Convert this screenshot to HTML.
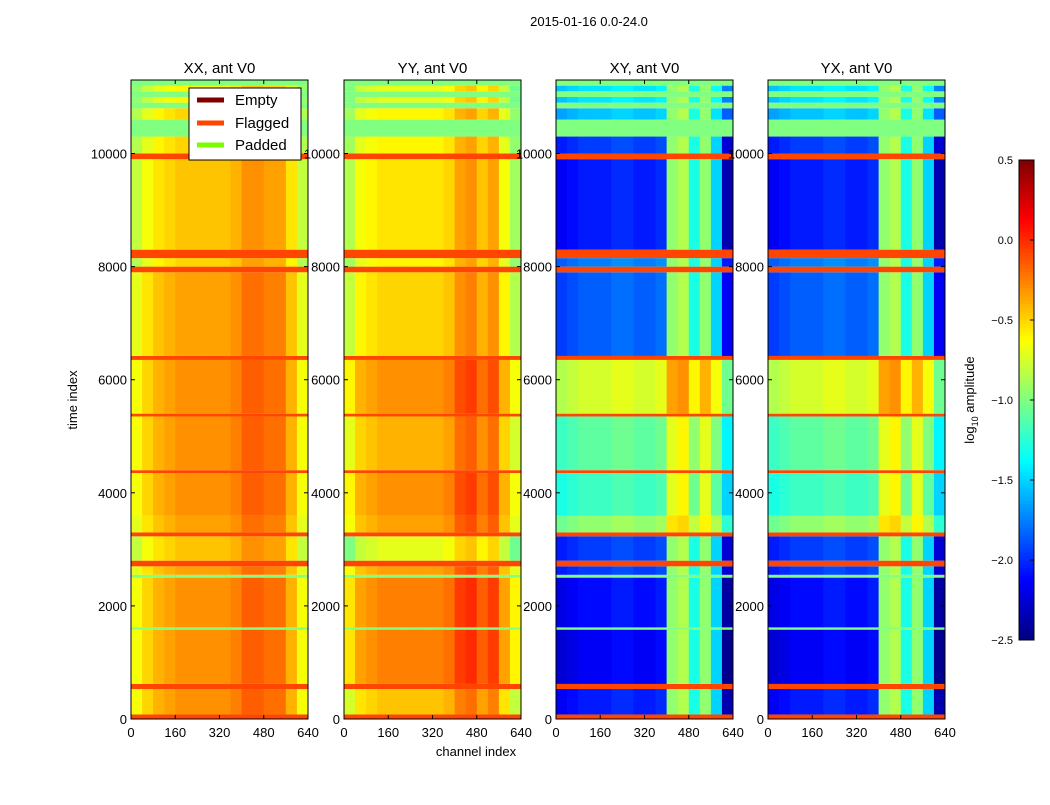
<!DOCTYPE html>
<html><head><meta charset="utf-8"><style>
body{margin:0;background:#fff;font-family:"Liberation Sans",sans-serif}
svg text{font-family:"Liberation Sans",sans-serif}
</style></head><body>
<svg id="c" width="1050" height="800" xmlns="http://www.w3.org/2000/svg">
<text x="589" y="26" font-size="13" text-anchor="middle">2015-01-16 0.0-24.0</text>
<text x="476" y="756" font-size="13" text-anchor="middle">channel index</text>
<text x="77" y="400" font-size="13" text-anchor="middle" transform="rotate(-90 77 400)">time index</text>
<g id="panels"></g>
<g id="cbar"></g>
<text x="974" y="400" font-size="13" text-anchor="middle" transform="rotate(-90 974 400)">log<tspan font-size="9" dy="4">10</tspan><tspan dy="-4"> amplitude</tspan></text>
<g>
<rect x="189" y="88" width="112" height="72" fill="#fff" stroke="#000"/>
<line x1="197" y1="100" x2="224" y2="100" stroke="#800000" stroke-width="5"/>
<text x="235" y="105" font-size="15">Empty</text>
<line x1="197" y1="123" x2="224" y2="123" stroke="#ff4500" stroke-width="5"/>
<text x="235" y="128" font-size="15">Flagged</text>
<line x1="197" y1="145" x2="224" y2="145" stroke="#7cfc00" stroke-width="5"/>
<text x="235" y="150" font-size="15">Padded</text>
</g>
</svg>
<script>
// time bands: start, end, kind (0 data,1 flagged,2 padded)
const bandStart=[0,80,530,620,1580,1620,2500,2550,2700,2800,3230,3300,3600,4350,4400,5350,5400,6350,6420,7900,8000,8150,8300,9900,10000,10300,10600,10800,10900,11000,11100,11200];
const bandEnd=[80,530,620,1580,1620,2500,2550,2700,2800,3230,3300,3600,4350,4400,5350,5400,6350,6420,7900,8000,8150,8300,9900,10000,10300,10600,10800,10900,11000,11100,11200,11300];
const bandKind=[1,0,1,0,2,0,2,0,1,0,1,0,0,1,0,1,0,1,0,1,0,1,0,1,0,2,0,2,0,2,0,2];
const levelXX=[0,-0.3,0,-0.3,0,-0.3,0,-0.35,0,-0.45,0,-0.35,-0.3,0,-0.3,0,-0.3,0,-0.35,0,-0.5,0,-0.45,0,-0.5,0,-0.5,0,-0.6,0,-0.6,0];
const levelYY=[0,-0.45,0,-0.25,0,-0.25,0,-0.35,0,-0.7,0,-0.35,-0.3,0,-0.4,0,-0.3,0,-0.5,0,-0.6,0,-0.55,0,-0.6,0,-0.6,0,-0.7,0,-0.7,0];
const levelXY=[0,-2.1,0,-2.2,0,-2.15,0,-2.0,0,-2.0,0,-1.0,-1.25,0,-1.15,0,-0.8,0,-1.9,0,-1.8,0,-2.1,0,-2.0,0,-1.6,0,-1.5,0,-1.5,0];
// per-40-channel column offsets
const colXX=[-0.35,-0.2,-0.1,-0.05,0,0,0,0,0,0.05,0.15,0.15,0.1,0.1,-0.1,-0.35];
const colYY=[-0.3,-0.1,-0.05,0,0,0,0,0,0,0.05,0.2,0.25,0.1,0.2,-0.1,-0.35];
const colXY=[-0.05,0,0.05,0.05,0.05,0.1,0.1,0.05,0.05,0.1,0.45,0.5,0.2,0.4,0.15,-0.25];
// per-column floor for cross-pol (bright channel bands)
const floorXY=[-9,-9,-9,-9,-9,-9,-9,-9,-9,-9,-0.95,-0.85,-1.3,-0.95,-1.5,-9];
const panelNames=["XX, ant V0","YY, ant V0","XY, ant V0","YX, ant V0"];
const panelLeft=[131,344,556,768];
const yTicks=[0,2000,4000,6000,8000,10000];
const xTicks=[0,160,320,480,640];
const cbTicks=[-2.5,-2.0,-1.5,-1.0,-0.5,0.0,0.5];
const PW=177,TOP=80,BOT=719,TMAX=11300;
const ty=t=>BOT-(t/TMAX)*(BOT-TOP);
const cx=(L,c)=>L+c/640*PW;
function jet(v){let x=(v+2.5)/3;x=Math.max(0,Math.min(1,x));
 const f=a=>Math.round(255*Math.max(0,Math.min(1,a)));
 const r=f(Math.min(4*x-1.5,-4*x+4.5)),g=f(Math.min(4*x-0.5,-4*x+3.5)),b=f(Math.min(4*x+0.5,-4*x+2.5));
 return `rgb(${r},${g},${b})`;}
const NS="http://www.w3.org/2000/svg";
function mk(p,tag,at){const e=document.createElementNS(NS,tag);for(const k in at)e.setAttribute(k,at[k]);p.appendChild(e);return e;}
const P=document.getElementById('panels');
const levels=[levelXX,levelYY,levelXY,levelXY];
const cols=[colXX,colYY,colXY,colXY];
const floors=[null,null,floorXY,floorXY];
for(let p=0;p<4;p++){
 const L=panelLeft[p];
 const g=mk(P,'g',{});
 
 
 for(let b=0;b<bandStart.length;b++){
  const y1=ty(bandEnd[b]),y2=ty(bandStart[b]);
  if(bandKind[b]){
   const r=mk(g,'rect',{x:L,y:y1,width:PW,height:y2-y1,fill:bandKind[b]==1?'#ff4500':'#80ff80'});
   
   
  } else {
   for(let c=0;c<16;c++){
    let v=levels[p][b]+cols[p][c];
    if(floors[p]) v=Math.max(v,floors[p][c]+(levels[p][b]>-1.5?0.25:0));
    const r=mk(g,'rect',{x:cx(L,c*40),y:y1,width:PW/16+0.4,height:y2-y1,fill:jet(v)});
    
    
   }
  }
 }
 mk(g,'rect',{x:L,y:TOP,width:PW,height:BOT-TOP,fill:'none',stroke:'#000','stroke-width':1});
 const t=mk(P,'text',{x:L+PW/2,y:73,'font-size':15,'text-anchor':'middle'});t.textContent=panelNames[p];
 
 
 for(const v of yTicks){const y=ty(v);
  mk(P,'line',{x1:L,x2:L+4,y1:y,y2:y,stroke:'#000'});mk(P,'line',{x1:L+PW-4,x2:L+PW,y1:y,y2:y,stroke:'#000'});
  const tt=mk(P,'text',{x:L-4,y:y+5,'font-size':13,'text-anchor':'end'});tt.textContent=v;
  
  }
 for(const v of xTicks){const x=cx(L,v);
  mk(P,'line',{x1:x,x2:x,y1:BOT,y2:BOT-4,stroke:'#000'});mk(P,'line',{x1:x,x2:x,y1:TOP,y2:TOP+4,stroke:'#000'});
  const tt=mk(P,'text',{x:x,y:737,'font-size':13,'text-anchor':'middle'});tt.textContent=v;
  
  }
}
const C=document.getElementById('cbar');
const cbY=v=>640-(v+2.5)/3*480;
for(let i=0;i<120;i++){const v=-2.5+3*(i+0.5)/120;
 const r=mk(C,'rect',{x:1019,y:cbY(-2.5+3*(i+1)/120),width:15,height:4.4,fill:jet(v)});
 
 }
mk(C,'rect',{x:1019,y:160,width:15,height:480,fill:'none',stroke:'#000'});
for(const v of cbTicks){const y=cbY(v);
 mk(C,'line',{x1:1030,x2:1034,y1:y,y2:y,stroke:'#000'});
 const tt=mk(C,'text',{x:1013,y:y+4,'font-size':11,'text-anchor':'end'});tt.textContent=(v<0?'\u2212':'')+Math.abs(v).toFixed(1);
 
 }
</script>
</body></html>
